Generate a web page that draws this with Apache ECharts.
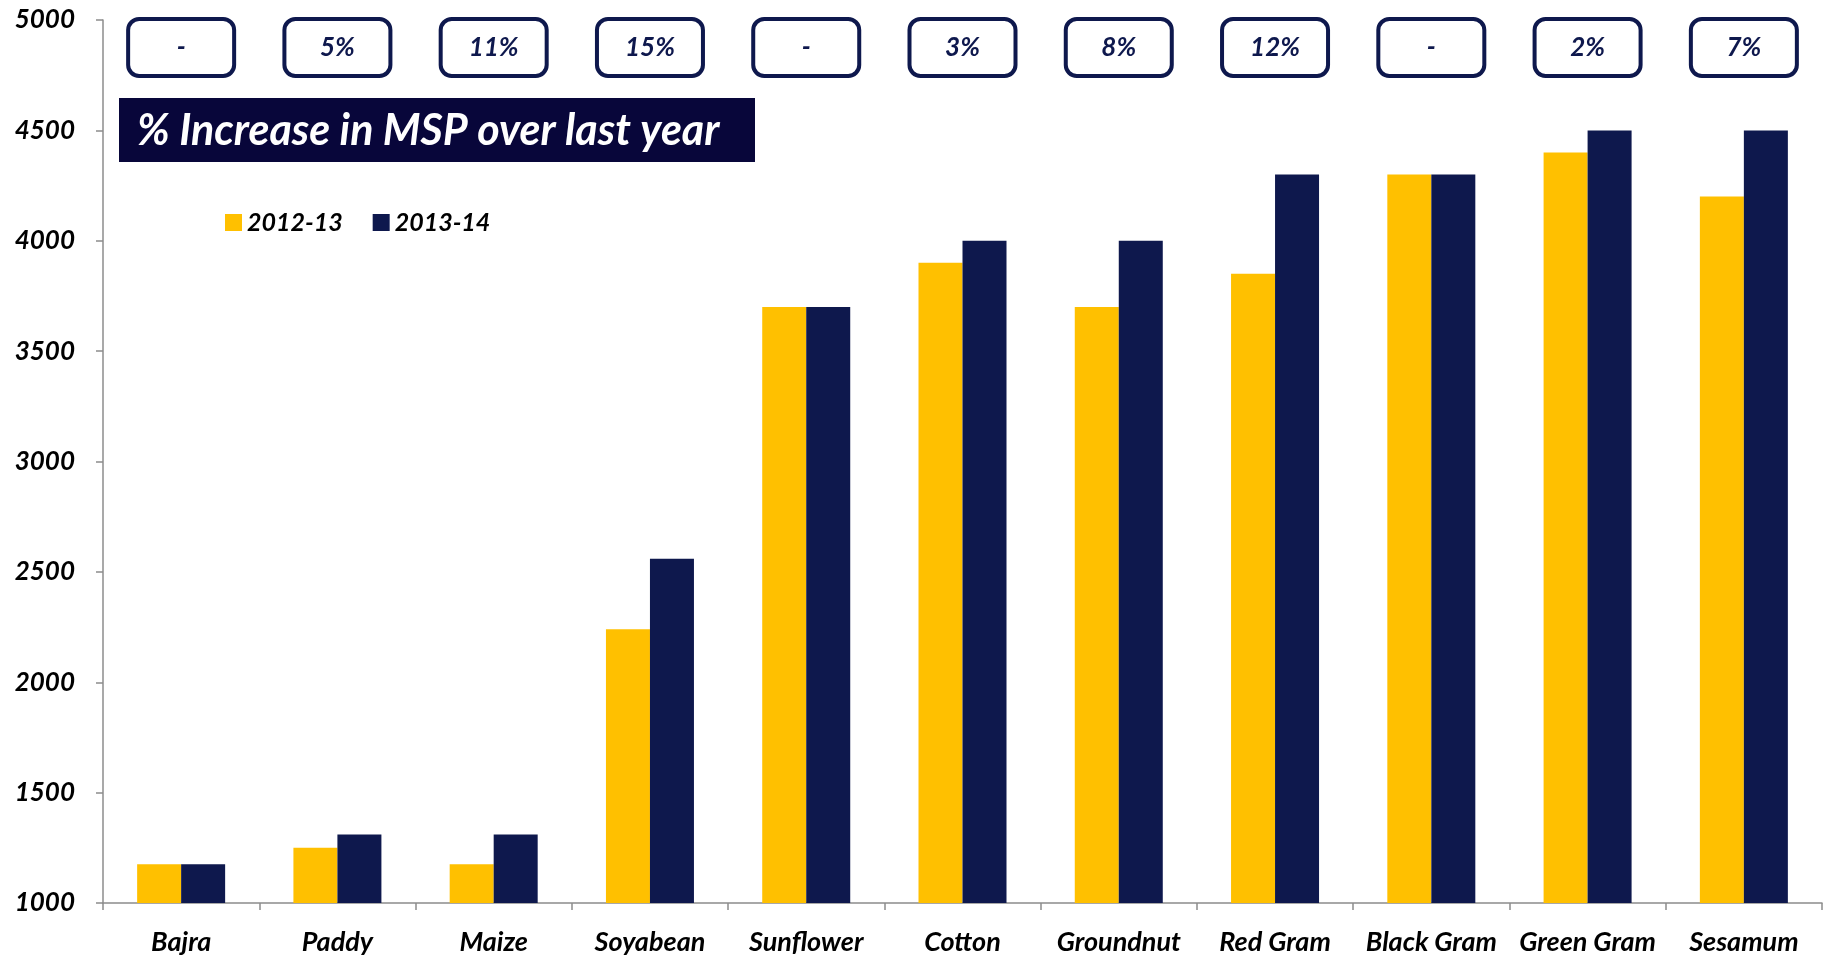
<!DOCTYPE html>
<html><head><meta charset="utf-8">
<script src="https://cdn.jsdelivr.net/npm/echarts@6/dist/echarts.min.js"></script>
<style>html,body{margin:0;padding:0;background:#fff}#c{width:1831px;height:958px}</style>
</head><body><div id="c"></div>
<script>
const categories = ['Bajra','Paddy','Maize','Soyabean','Sunflower','Cotton','Groundnut','Red Gram','Black Gram','Green Gram','Sesamum'];
const msp2012 = [1175,1250,1175,2240,3700,3900,3700,3850,4300,4400,4200];
const msp2013 = [1175,1310,1310,2560,3700,4000,4000,4300,4300,4500,4500];
const increaseLabels = ['-','5%','11%','15%','-','3%','8%','12%','-','2%','7%'];
const yTicks = {min:1000,max:5000,interval:500};

const YELLOW='#FFC000', NAVY='#0E184D', TITLEBG='#08063A';
const FONT='Lato';

const chart = echarts.init(document.getElementById('c'));
chart.setOption({
  animation:false,
  backgroundColor:'#fff',
  grid:{left:103,right:9,top:20,bottom:55,containLabel:false},
  legend:{
    left:220, top:205, itemWidth:17, itemHeight:17, itemGap:30,
    icon:'rect',
    textStyle:{fontFamily:FONT,fontSize:25,fontWeight:'bold',fontStyle:'italic',color:'#000'},
    data:['2012-13','2013-14']
  },
  graphic:[{
    type:'group', left:119, top:98,
    children:[
      {type:'rect',shape:{x:0,y:0,width:636,height:64},style:{fill:TITLEBG}},
      {type:'text',x:18,y:33,style:{text:'% Increase in MSP over last year',fill:'#fff',font:'italic bold 43px Lato',textVerticalAlign:'middle'}}
    ]
  }],
  xAxis:{
    type:'category', data:categories,
    axisLine:{lineStyle:{color:'#8c8c8c',width:1.5}},
    axisTick:{show:true,length:7,lineStyle:{color:'#8c8c8c',width:1.5}},
    axisLabel:{fontFamily:FONT,fontSize:27,fontWeight:'bold',fontStyle:'italic',color:'#000',margin:26,interval:0}
  },
  yAxis:{
    type:'value', min:yTicks.min, max:yTicks.max, interval:yTicks.interval,
    splitLine:{show:false},
    axisLine:{show:true,lineStyle:{color:'#8c8c8c',width:1.5}},
    axisTick:{show:true,length:7,lineStyle:{color:'#8c8c8c',width:1.5}},
    axisLabel:{fontFamily:FONT,fontSize:26,fontWeight:'bold',fontStyle:'italic',color:'#000',margin:28,formatter:v=>String(v)}
  },
  series:[
    {name:'2012-13',type:'bar',data:msp2012,barWidth:44,barGap:'0%',itemStyle:{color:YELLOW}},
    {name:'2013-14',type:'bar',data:msp2013,barWidth:44,itemStyle:{color:NAVY}},
    {name:'pct',type:'custom',data:increaseLabels.map((t,i)=>[i,yTicks.max,t]),
     silent:true,z:10,
     renderItem:function(params,api){
       const p = api.coord([api.value(0),api.value(1)]);
       const w=106,h=57;
       return {type:'group',children:[
         {type:'rect',shape:{x:p[0]-w/2,y:p[1]-1,width:w,height:h,r:11},
          style:{fill:'#fff',stroke:NAVY,lineWidth:4}},
         {type:'text',x:p[0],y:p[1]-1+h/2,
          style:{text:increaseLabels[params.dataIndex],fill:NAVY,font:'italic bold 26px Lato',align:'center',verticalAlign:'middle'}}
       ]};
     }}
  ]
});
</script></body></html>
